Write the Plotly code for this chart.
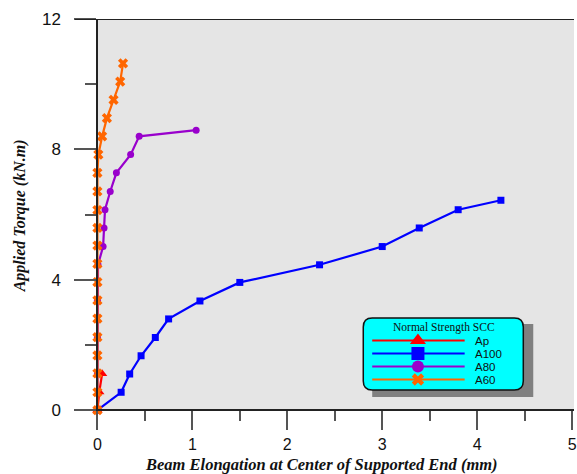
import plotly.graph_objects as go

# ---------------- data ----------------
ap_x = [0.0, 0.02, 0.05]
ap_y = [0.0, 0.56, 1.12]

a100_x = [0.0, 0.25, 0.34, 0.46, 0.61, 0.75, 1.08, 1.50, 2.34, 3.00, 3.39, 3.80, 4.25]
a100_y = [0.0, 0.55, 1.11, 1.67, 2.23, 2.80, 3.35, 3.92, 4.46, 5.02, 5.59, 6.15, 6.44]

a80_x = [0.0, 0.0, 0.0, 0.0, 0.006, 0.06, 0.07, 0.08, 0.135, 0.20, 0.35, 0.44, 1.04]
a80_y = [0.0, 1.12, 2.24, 3.37, 4.46, 5.02, 5.59, 6.15, 6.71, 7.28, 7.84, 8.40, 8.59]

a60_x = [0.0, 0.0, 0.0, 0.0, 0.0, 0.0, 0.0, 0.0, 0.0, 0.0, 0.0, 0.0,
         0.0, 0.0, 0.01, 0.05, 0.10, 0.17, 0.24, 0.27]
a60_y = [0.0, 0.55, 1.13, 1.68, 2.24, 2.81, 3.37, 3.93, 4.49, 5.05, 5.59, 6.14,
         6.71, 7.28, 7.84, 8.40, 8.96, 9.52, 10.08, 10.64]

series_names = ["Ap", "A100", "A80", "A60"]
x_ticks = [0, 1, 2, 3, 4, 5]
y_ticks = [0, 4, 8, 12]

# ---------------- styles ----------------
colors = {"Ap": "#FF0000", "A100": "#0000FF", "A80": "#9900CC", "A60": "#FF6600"}
symbols = {"Ap": "triangle-up", "A100": "square", "A80": "circle", "A60": "x"}

W, H = 577, 474
ML, MR, MT, MB = 75, 0, 19, 44
PW, PH = W - ML - MR, H - MT - MB
X_RANGE = [-0.236, 5.02]
Y_RANGE = [12 - PH / 32.6, 12]


def px_x(p):
    return (p - ML) / PW


def px_y(p):
    return (H - MB - p) / PH


def dx(p):
    return X_RANGE[0] + px_x(p) * (X_RANGE[1] - X_RANGE[0])


def dy(p):
    return Y_RANGE[0] + px_y(p) * (Y_RANGE[1] - Y_RANGE[0])


fig = go.Figure()

data = {"Ap": (ap_x, ap_y), "A100": (a100_x, a100_y), "A80": (a80_x, a80_y), "A60": (a60_x, a60_y)}
marker_sizes = {"Ap": 9, "A100": 7, "A80": 7, "A60": 9}
for name in ["A100", "A80", "Ap", "A60"]:
    xs, ys = data[name]
    fig.add_trace(go.Scatter(
        x=xs, y=ys, mode="lines+markers", name=name, showlegend=False,
        line=dict(color=colors[name], width=2.2),
        marker=dict(symbol=symbols[name], size=marker_sizes[name], color=colors[name],
                    line=dict(width=0)),
        cliponaxis=False,
    ))


def rounded_rect(x0, y0, x1, y1, r):
    # pixel coords -> data-coordinate path
    X, Y = dx, dy
    return (f"M {X(x0 + r)},{Y(y0)} L {X(x1 - r)},{Y(y0)} Q {X(x1)},{Y(y0)} {X(x1)},{Y(y0 + r)} "
            f"L {X(x1)},{Y(y1 - r)} Q {X(x1)},{Y(y1)} {X(x1 - r)},{Y(y1)} "
            f"L {X(x0 + r)},{Y(y1)} Q {X(x0)},{Y(y1)} {X(x0)},{Y(y1 - r)} "
            f"L {X(x0)},{Y(y0 + r)} Q {X(x0)},{Y(y0)} {X(x0 + r)},{Y(y0)} Z")


# grey plotting region
fig.add_shape(type="rect", xref="x", yref="y", x0=0, x1=X_RANGE[1], y0=0, y1=12,
              fillcolor="#E5E5E5", line=dict(width=0), layer="below")
# legend shadow + box
fig.add_shape(type="rect", xref="x", yref="y",
              x0=dx(374), x1=dx(536), y0=dy(397), y1=dy(324),
              fillcolor="#808080", line=dict(width=0), layer="below")
fig.add_shape(type="path", xref="x", yref="y", path=rounded_rect(365, 318, 526, 390, 9),
              fillcolor="#00FFFF", line=dict(color="#111", width=1.5), layer="below")

# ---------------- custom legend ----------------
leg_rows = [340.5, 353.5, 366.5, 379.5]
leg_line_x0, leg_line_x1, leg_mark_x, leg_text_x = 374, 467, 420, 476
leg_msize = {"Ap": 14, "A100": 13, "A80": 12, "A60": 11}
for name, ry in zip(series_names, leg_rows):
    fig.add_shape(type="line", xref="x", yref="y",
                  x0=dx(leg_line_x0), x1=dx(leg_line_x1), y0=dy(ry), y1=dy(ry),
                  line=dict(color=colors[name], width=2), layer="below")
    fig.add_trace(go.Scatter(
        x=[px_x(leg_mark_x)], y=[px_y(ry)], xaxis="x2", yaxis="y2",
        mode="markers", showlegend=False, hoverinfo="skip",
        marker=dict(symbol=symbols[name], size=leg_msize[name], color=colors[name], line=dict(width=0)),
    ))
    fig.add_annotation(xref="paper", yref="paper", x=px_x(leg_text_x), y=px_y(ry),
                       text=name, showarrow=False, xanchor="left", yanchor="middle", borderpad=0,
                       font=dict(family="Liberation Sans, Arial", size=11.5, color="#111"))

fig.add_annotation(xref="paper", yref="paper", x=px_x(446), y=px_y(327),
                   text="Normal Strength SCC", showarrow=False, xanchor="center", yanchor="middle",
                   borderpad=0,
                   font=dict(family="Liberation Serif, Times New Roman", size=11.5, color="#111"))

# top frame line
fig.add_shape(type="line", xref="paper", yref="y", x0=0, x1=1, y0=12, y1=12,
              line=dict(color="#222", width=2), layer="above")

# x-axis and y-axis titles
fig.add_annotation(xref="paper", yref="paper", x=px_x(323), y=px_y(464.5),
                   text="Beam Elongation at Center of Supported End (mm)", showarrow=False,
                   xanchor="center", yanchor="middle", borderpad=0,
                   font=dict(family="Liberation Serif, Times New Roman", size=16.5, color="#111",
                             weight="bold", style="italic"))
fig.add_annotation(xref="paper", yref="paper", x=px_x(20), y=px_y(216), textangle=-90,
                   text="Applied Torque (kN.m)", showarrow=False,
                   xanchor="center", yanchor="middle", borderpad=0,
                   font=dict(family="Liberation Serif, Times New Roman", size=16, color="#111",
                             weight="bold", style="italic"))

fig.update_layout(
    width=W, height=H,
    margin=dict(l=ML, r=MR, t=MT, b=MB, pad=0),
    paper_bgcolor="white", plot_bgcolor="white",
    showlegend=False,
    xaxis=dict(range=X_RANGE, anchor="free",
               position=(0 - Y_RANGE[0]) / (Y_RANGE[1] - Y_RANGE[0]),
               tickmode="array", tickvals=x_ticks, ticktext=[str(v) for v in x_ticks],
               ticks="outside", ticklen=19, tickwidth=1.5, tickcolor="#555",
               minor=dict(dtick=0.5, tick0=0, ticks="outside", ticklen=10, tickwidth=1.5, tickcolor="#555"),
               showline=True, linecolor="#222", linewidth=2, ticklabeloverflow="allow",
               showgrid=False, zeroline=False, ticklabelstandoff=1,
               tickfont=dict(family="Liberation Sans, Arial", size=16, color="#111")),
    yaxis=dict(range=Y_RANGE, anchor="free",
               position=(0 - X_RANGE[0]) / (X_RANGE[1] - X_RANGE[0]),
               tickmode="array", tickvals=y_ticks, ticktext=[str(v) for v in y_ticks],
               ticks="outside", ticklen=22, tickwidth=1.5, tickcolor="#555",
               minor=dict(dtick=2, tick0=0, ticks="outside", ticklen=11, tickwidth=1.5, tickcolor="#555"),
               showline=True, linecolor="#222", linewidth=2,
               showgrid=False, zeroline=False, ticklabelstandoff=10,
               tickfont=dict(family="Liberation Sans, Arial", size=17, color="#111")),
    xaxis2=dict(range=[0, 1], overlaying="x", anchor="y2", visible=False, fixedrange=True),
    yaxis2=dict(range=[0, 1], overlaying="y", anchor="x2", visible=False, fixedrange=True),
)

fig.write_html("out.html")
